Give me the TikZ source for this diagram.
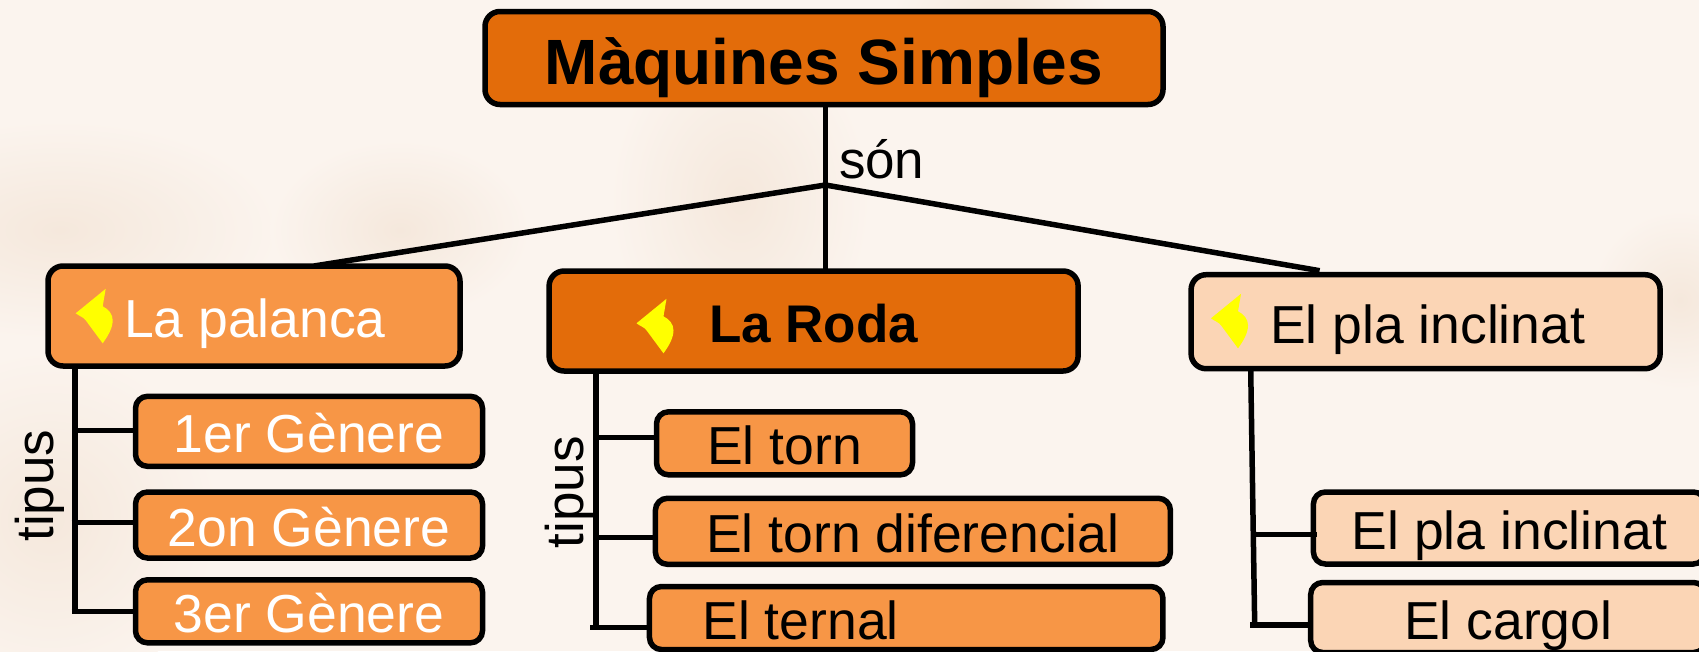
\documentclass[tikz,border=0pt]{standalone}
\usepackage{fontspec}
\setmainfont{Liberation Sans}
\usetikzlibrary{positioning}
\definecolor{paper}{HTML}{FBF4EE}
\definecolor{stain}{HTML}{F5E8DC}
\definecolor{dark orange}{HTML}{E36C0A}
\definecolor{mid orange}{HTML}{F79646}
\definecolor{light orange}{HTML}{FBD5B5}
\definecolor{petal yellow}{HTML}{FFFF00}
\tikzset{
  concept/.style={draw=black, line width=5.5pt, rounded corners=15pt, inner sep=0pt, outer sep=0pt,
    font=\fontsize{53.5}{60}\selectfont, text height=43pt, text depth=0pt},
  subconcept/.style={concept, rounded corners=12pt},
  tag/.style={inner sep=0pt, outer sep=0pt, font=\fontsize{53.5}{60}\selectfont, text height=43pt, text depth=0pt},
  link word/.style={inner sep=0pt, outer sep=0pt, font=\fontsize{53}{60}\selectfont},
  link/.style={line width=5.5pt},
  petal/.pic={
    \fill[petal yellow] (0,0) -- (30,-24.5) -- (27,-7) .. controls (33,-4) and (37,1) .. (37,7)
      .. controls (37,15) and (32,23) .. (27,30) -- (10,7) .. controls (8,4) and (4,3) .. (0,0) -- cycle;
  }
}
\begin{document}
\begin{tikzpicture}[x=1pt,y=-1pt]
  \useasboundingbox (0,0) rectangle (1699,651);
  \fill[paper] (0,0) rectangle (1699,651);
  % stains of the paper
  \begin{scope}
    \clip (0,0) rectangle (1699,651);
    \shade[inner color=stain, outer color=paper] (60,230) ellipse (220 and 110);
    \shade[inner color=stain, outer color=paper] (400,230) ellipse (130 and 90);
    \shade[inner color=stain, outer color=paper] (740,200) ellipse (130 and 170);
    \shade[inner color=stain, outer color=paper] (1000,20) ellipse (110 and 70);
    \shade[inner color=stain, outer color=paper] (1680,300) ellipse (90 and 90);
    \shade[inner color=stain, outer color=paper] (50,520) ellipse (170 and 170);
  \end{scope}

  \node (title) [concept, fill=dark orange, minimum width=678pt, minimum height=93pt, text height=52pt,
    font=\fontsize{64}{70}\bfseries\selectfont] at (824,58) {Màquines Simples};

  \node (palanca) [concept, fill=mid orange, minimum width=412pt, minimum height=100pt] at (254,316) {};
  \node (roda) [concept, fill=dark orange, minimum width=529pt, minimum height=100pt] at (813.6,321) {};
  \node (pla) [concept, fill=light orange, minimum width=469pt, minimum height=94pt] at (1425.6,321.7) {};

  \node (palanca_label) [tag, text=white, right=76pt of palanca.west] {La palanca};
  \node (roda_label) [tag, font=\fontsize{53}{60}\bfseries\selectfont, right=160pt of roda.west] {La Roda};
  \node (pla_label) [tag, right=79pt of pla.west] {El pla inclinat};

  \pic at (75.7,313.3) {petal};
  \pic at (636.5,323.3) {petal};
  \pic at (1211,318.3) {petal};

  \node (genere_1) [subconcept, fill=mid orange, text=white, minimum width=347pt, minimum height=70pt] at (309,431.3) {1er Gènere};
  \node (genere_2) [subconcept, fill=mid orange, text=white, minimum width=347pt, minimum height=66pt] at (309,525) {2on Gènere};
  \node (genere_3) [subconcept, fill=mid orange, text=white, minimum width=347pt, minimum height=63pt] at (309,611.3) {3er Gènere};

  \node (torn) [subconcept, fill=mid orange, minimum width=256pt, minimum height=63pt] at (784.5,443.3) {El torn};
  \node (diferencial) [subconcept, fill=mid orange, minimum width=515pt, minimum height=66pt] at (912.9,531.3) {El torn diferencial};
  \node (ternal) [subconcept, fill=mid orange, minimum width=513.5pt, minimum height=63pt] at (906.2,618) {};
  \node (ternal_label) [tag, right=53pt of ternal.west] {El ternal};

  \node (pla_sub) [subconcept, fill=light orange, minimum width=392pt, minimum height=72pt] at (1509.4,528) {El pla inclinat};
  \node (cargol) [subconcept, fill=light orange, minimum width=395pt, minimum height=70pt] at (1508.2,617.5) {El cargol};

  \node (son_label) [link word, anchor=base west] at (839,178) {són};
  \node (tipus_left) [link word, rotate=90, anchor=base west] at (53.5,541.7) {tipus};
  \node (tipus_mid) [link word, rotate=90, anchor=base west] at (583,548.3) {tipus};

  \coordinate (son_joint) at (825.4,185);

  \draw[link] (title.south -| son_joint) -- ([yshift=2.5pt]roda.north -| son_joint);
  \draw[link] (son_joint) -- ([xshift=60pt]palanca.north);
  \draw[link] (son_joint) -- ([xshift=-106pt,yshift=4pt]pla.north);

  % palanca tree
  \coordinate (palanca_foot) at (75,611.7);
  \draw[link] (palanca.south -| palanca_foot) -- (palanca_foot);
  \draw[link] ([yshift=.6pt]genere_1.west -| palanca_foot) -- ([yshift=.6pt]genere_1.west);
  \draw[link] ([xshift=-3.5pt,yshift=2.3pt]genere_2.west -| palanca_foot) -- ([yshift=2.3pt]genere_2.west);
  \draw[link] ([xshift=-3.5pt]palanca_foot) -- (palanca_foot -| genere_3.west);

  % roda tree
  \coordinate (roda_foot) at (596,627.7);
  \draw[link] (roda.south -| roda_foot) -- (roda_foot);
  \draw[link] ([yshift=5.6pt]torn.west -| roda_foot) -- ([yshift=5.6pt]torn.west);
  \draw[link] ([yshift=-6.4pt]diferencial.west -| roda_foot) -- ([yshift=-6.4pt]diferencial.west);
  \draw[link] ([xshift=-6pt]roda_foot) -- (roda_foot -| ternal.west);

  % pla tree
  \coordinate (pla_foot) at (1254.7,625);
  \draw[link] ([xshift=-4pt]pla.south -| pla_foot) -- (pla_foot);
  \draw[link] ([yshift=-6.7pt]pla_sub.west -| pla_foot) -- ([xshift=3.6pt,yshift=-6.7pt]pla_sub.west);
  \draw[link] ([xshift=-4.7pt]pla_foot) -- (pla_foot -| cargol.west);
\end{tikzpicture}
\end{document}
